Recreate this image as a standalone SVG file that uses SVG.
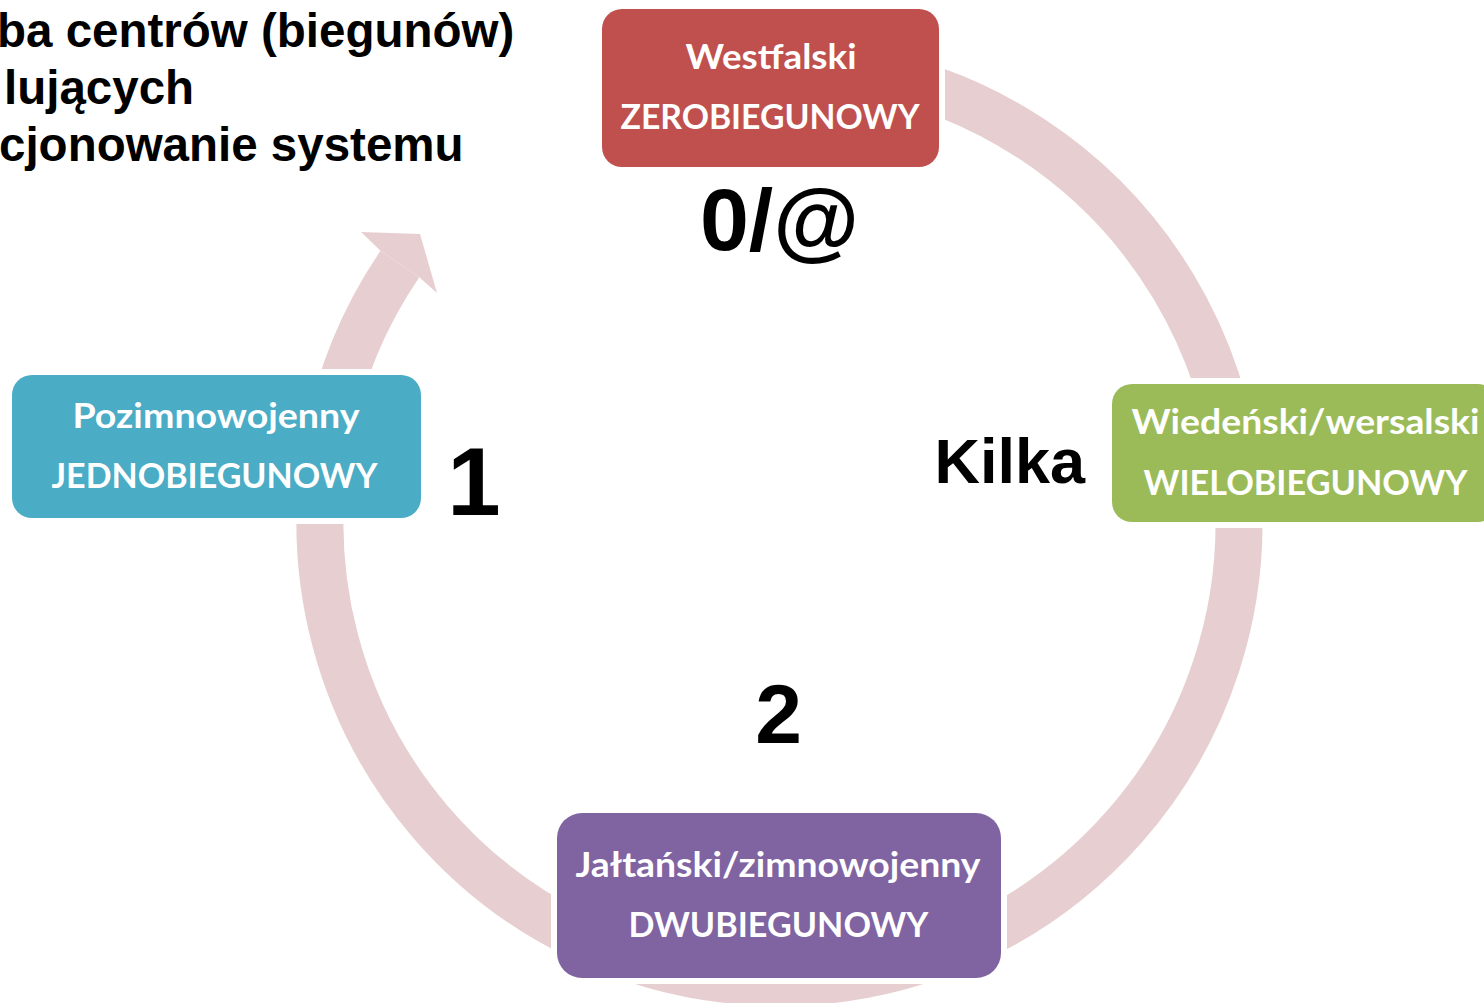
<svg xmlns="http://www.w3.org/2000/svg" width="1484" height="1003" viewBox="0 0 1484 1003">
  <style>
    .ring { fill: none; stroke: #E7CFD1; stroke-width: 47; stroke-linecap: butt; }
    .head { fill: #E7CFD1; }
    .halo { fill: #FFFFFF; }
    .nt { font-family: Lato, "Open Sans", "Liberation Sans", sans-serif; font-weight: 700; font-size: 34px; fill: #FFFFFF; text-anchor: middle; }
    .big { font-family: "Liberation Sans", Arial, sans-serif; font-weight: 700; fill: #000000; }
    .title { font-family: "Liberation Sans", Arial, sans-serif; font-weight: 700; font-size: 47.5px; fill: #000000; }
  </style>

  <g id="title">
    <text class="title" x="-3" y="47">ba centrów (biegunów)</text>
    <text class="title" x="4" y="104">lujących</text>
    <text class="title" x="-1" y="161" font-size="48">cjonowanie systemu</text>
  </g>

  <g id="connectors">
    <path class="ring" d="M 859.3 70.5 A 459.5 459.5 0 1 1 399.9 264.1"/>
    <polygon class="head" points="380.5,250.8 361,232 420,234 437,293 419.3,277.3"/>
  </g>

  <g id="node-westfalski">
    <rect class="halo" x="596" y="3" width="349" height="170" rx="26"/>
    <rect x="602" y="9" width="337" height="158" rx="20" fill="#C0504D"/>
    <text class="nt" x="771" y="68.5" textLength="171" lengthAdjust="spacingAndGlyphs">Westfalski</text>
    <text class="nt" x="770" y="129" textLength="299" lengthAdjust="spacingAndGlyphs">ZEROBIEGUNOWY</text>
  </g>

  <g id="node-wiedenski">
    <rect class="halo" x="1106" y="378" width="398" height="150" rx="26"/>
    <rect x="1112" y="384" width="386" height="138" rx="20" fill="#9BBB59"/>
    <text class="nt" x="1305.5" y="434" textLength="348" lengthAdjust="spacingAndGlyphs">Wiedeński/wersalski</text>
    <text class="nt" x="1305.5" y="495" textLength="324" lengthAdjust="spacingAndGlyphs">WIELOBIEGUNOWY</text>
  </g>

  <g id="node-jaltanski">
    <rect class="halo" x="551" y="807" width="456" height="177" rx="31"/>
    <rect x="557" y="813" width="444" height="165" rx="25" fill="#8064A2"/>
    <text class="nt" x="778" y="877" textLength="405" lengthAdjust="spacingAndGlyphs">Jałtański/zimnowojenny</text>
    <text class="nt" x="778.5" y="937" textLength="300" lengthAdjust="spacingAndGlyphs">DWUBIEGUNOWY</text>
  </g>

  <g id="node-pozimnowojenny">
    <rect class="halo" x="6" y="369" width="421" height="155" rx="26"/>
    <rect x="12" y="375" width="409" height="143" rx="20" fill="#4BACC6"/>
    <text class="nt" x="216" y="428" textLength="287" lengthAdjust="spacingAndGlyphs">Pozimnowojenny</text>
    <text class="nt" x="214.5" y="488" textLength="326" lengthAdjust="spacingAndGlyphs">JEDNOBIEGUNOWY</text>
  </g>

  <g id="labels">
    <text class="big" x="779.5" y="250" font-size="88" text-anchor="middle">0/@</text>
    <text class="big" x="474" y="515" font-size="96" text-anchor="middle">1</text>
    <text class="big" x="778.5" y="743" font-size="84" text-anchor="middle">2</text>
    <text class="big" x="934.5" y="483" font-size="63">Kilka</text>
  </g>
</svg>
